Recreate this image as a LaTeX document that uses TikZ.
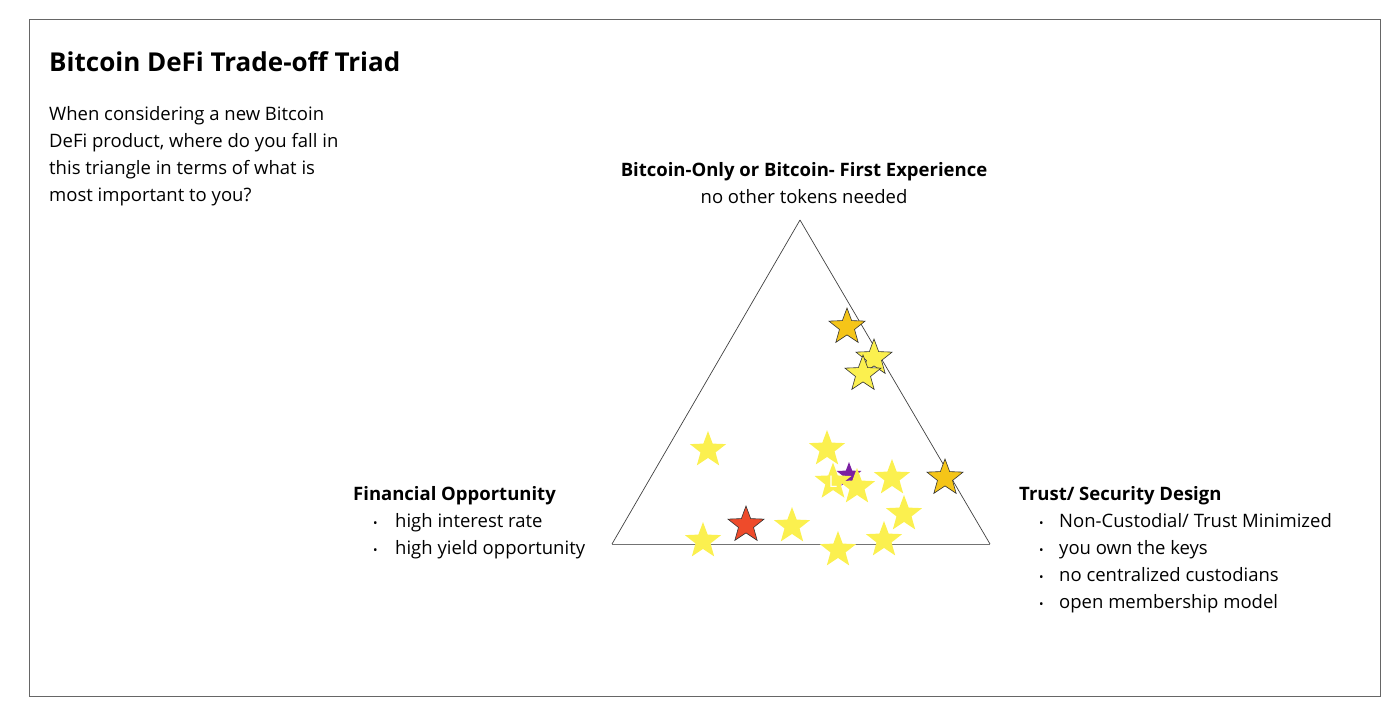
\documentclass[tikz,border=0pt]{standalone}
\usepackage{fontspec}
\setmainfont{Open Sans}
\usetikzlibrary{shapes.geometric}
\definecolor{sy}{HTML}{FBF04F}
\definecolor{so}{HTML}{F5C518}
\definecolor{sr}{HTML}{EE4B2B}
\definecolor{sp}{HTML}{7B1FA2}
\tikzset{
 st/.style={star,star points=5,star point ratio=2.4,minimum size=38pt,inner sep=0pt,fill=sy},
 sto/.style={st,draw=black!80,line width=0.6pt},
 txt/.style={anchor=north west,inner sep=0pt,align=left,font=\fontsize{18.5}{27}\selectfont},
}
\newcommand{\bul}[1]{\hspace*{20pt}\makebox[#1][l]{\fontsize{12}{12}\selectfont•}}
\begin{document}
\begin{tikzpicture}[x=1pt,y=-1pt]
\useasboundingbox (0,0) rectangle (1393,717);
\draw[black!60,line width=0.8pt] (29,19) rectangle (1380,696);
\node[anchor=west,inner sep=0pt,font=\fontsize{26}{30}\bfseries\selectfont] (title) at (49,62) {Bitcoin DeFi Trade-off Triad};
\node[txt] (intro) at (49,106) {When considering a new Bitcoin\\DeFi product, where do you fall in\\this triangle in terms of what is\\most important to you?};
\coordinate (A) at (800,220);
\coordinate (B) at (612,544);
\coordinate (C) at (990,544);
\draw[black!75,line width=0.7pt] (A) -- (C);
\draw[black!75,line width=0.7pt] (A) -- (B);
\draw[black!55,line width=1pt] (B) -- (C);
\node[align=center,inner sep=0pt,font=\fontsize{18.5}{27}\selectfont] (top) at (804,183) {\textbf{Bitcoin-Only or Bitcoin- First Experience}\\no other tokens needed};
\node[txt] (left) at (353,486) {\textbf{Financial Opportunity}\\
\bul{22pt}high interest rate\\
\bul{22pt}high yield opportunity};
\node[txt] (right) at (1019,486) {\textbf{Trust/ Security Design}\\
\bul{20pt}Non-Custodial/ Trust Minimized\\
\bul{20pt}you own the keys\\
\bul{20pt}no centralized custodians\\
\bul{20pt}open membership model};
\node[sto,fill=so] (s1) at (847,327) {};
\node[sto] (s2) at (874,358) {};
\node[sto] (s3) at (863,374) {};
\node[st] (s4) at (708,450) {};
\node[st] (s5) at (827,449) {};
\node[star,star points=5,star point ratio=2.4,minimum size=26pt,inner sep=0pt,fill=sp] (s6) at (849,475) {};
\node[st,text=white,font=\fontsize{16}{16}\selectfont] (s7) at (833,482) {L};
\node[st] (s8) at (857,487) {};
\node[st] (s9) at (892,478) {};
\node[sto,fill=so] (s10) at (945,478) {};
\node[st] (s11) at (904,514) {};
\node[sto,fill=sr] (s12) at (746,525) {};
\node[st] (s13) at (792,526) {};
\node[st] (s14) at (703,541) {};
\node[st] (s15) at (838,550) {};
\node[st] (s16) at (884,540) {};
\end{tikzpicture}
\end{document}
